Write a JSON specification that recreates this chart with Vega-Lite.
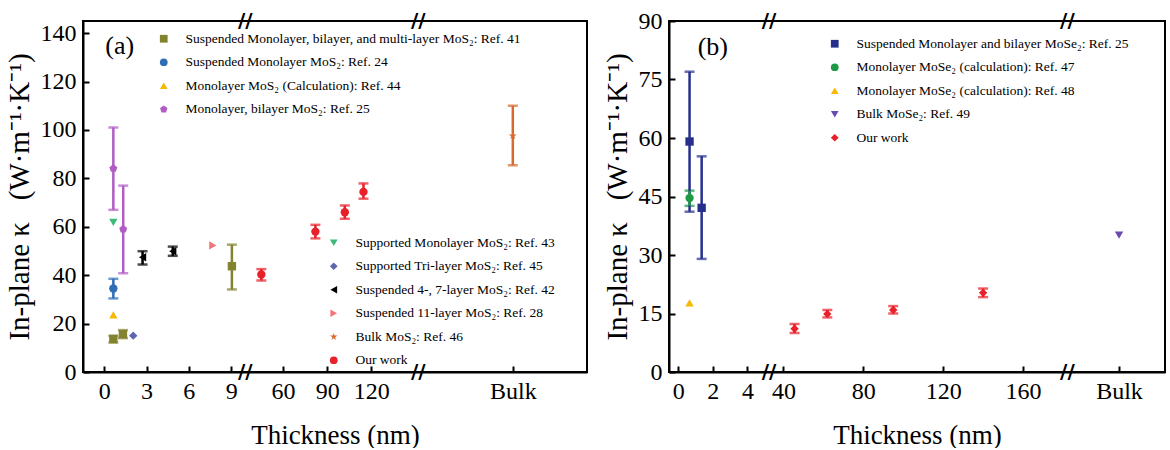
{
  "$schema": "https://vega.github.io/schema/vega-lite/v6.json",
  "padding": {"left": 5, "top": 9, "right": 0, "bottom": 0},
  "background": "white",
  "spacing": 15,
  "datasets": {
    "a": [
      {"series": "Suspended Monolayer, bilayer, and multi-layer MoS₂: Ref. 41", "group": 1, "x": 0.65, "y": 13.6, "lo": 12.2, "hi": 15.0},
      {"series": "Suspended Monolayer, bilayer, and multi-layer MoS₂: Ref. 41", "group": 1, "x": 1.33, "y": 15.6, "lo": 14.0, "hi": 17.3},
      {"series": "Suspended Monolayer, bilayer, and multi-layer MoS₂: Ref. 41", "group": 1, "x": 9.05, "y": 43.7, "lo": 34.1, "hi": 52.6},
      {"series": "Suspended Monolayer MoS₂: Ref. 24", "group": 1, "x": 0.65, "y": 34.5, "lo": 30.4, "hi": 38.5},
      {"series": "Monolayer MoS₂ (Calculation): Ref. 44", "group": 1, "x": 0.65, "y": 23.6},
      {"series": "Monolayer, bilayer MoS₂: Ref. 25", "group": 1, "x": 0.65, "y": 84.1, "lo": 67.0, "hi": 101.0},
      {"series": "Monolayer, bilayer MoS₂: Ref. 25", "group": 1, "x": 1.35, "y": 59.0, "lo": 40.8, "hi": 77.0},
      {"series": "Supported Monolayer MoS₂: Ref. 43", "group": 2, "x": 0.65, "y": 61.8},
      {"series": "Supported Tri-layer MoS₂: Ref. 45", "group": 2, "x": 2.06, "y": 15.0},
      {"series": "Suspended 4-, 7-layer MoS₂: Ref. 42", "group": 2, "x": 2.72, "y": 47.4, "lo": 44.4, "hi": 49.9},
      {"series": "Suspended 4-, 7-layer MoS₂: Ref. 42", "group": 2, "x": 4.86, "y": 49.9, "lo": 48.0, "hi": 51.8},
      {"series": "Suspended 11-layer MoS₂: Ref. 28", "group": 2, "x": 7.7, "y": 52.3},
      {"series": "Bulk MoS₂: Ref. 46", "group": 2, "x": 200, "y": 97.6, "lo": 85.4, "hi": 110.0},
      {"series": "Our work", "group": 2, "x": 45.2, "y": 40.3, "lo": 37.8, "hi": 42.5},
      {"series": "Our work", "group": 2, "x": 82, "y": 58.0, "lo": 55.2, "hi": 60.8},
      {"series": "Our work", "group": 2, "x": 102, "y": 66.0, "lo": 63.3, "hi": 68.8},
      {"series": "Our work", "group": 2, "x": 114.7, "y": 74.4, "lo": 71.6, "hi": 77.9}
    ],
    "b": [
      {"series": "Suspended Monolayer and bilayer MoSe₂: Ref. 25", "x": 0.65, "y": 59.1, "lo": 41.1, "hi": 77.0},
      {"series": "Suspended Monolayer and bilayer MoSe₂: Ref. 25", "x": 1.35, "y": 42.1, "lo": 29.0, "hi": 55.3},
      {"series": "Monolayer MoSe₂ (calculation): Ref. 47", "x": 0.65, "y": 44.6, "lo": 42.6, "hi": 46.5},
      {"series": "Monolayer MoSe₂ (calculation): Ref. 48", "x": 0.65, "y": 17.7},
      {"series": "Bulk MoSe₂: Ref. 49", "x": 200, "y": 35.1},
      {"series": "Our work", "x": 45.6, "y": 11.1, "lo": 10.0, "hi": 12.3},
      {"series": "Our work", "x": 62, "y": 14.9, "lo": 14.0, "hi": 15.9},
      {"series": "Our work", "x": 95, "y": 15.9, "lo": 15.0, "hi": 16.9},
      {"series": "Our work", "x": 140, "y": 20.3, "lo": 19.2, "hi": 21.4}
    ]
  },
  "hconcat": [
    {
      "width": 504,
      "height": 351,
      "data": {"name": "a"},
      "resolve": {
        "scale": {"color": "independent", "shape": "independent"},
        "axis": {"x": "independent", "y": "independent"}
      },
      "layer": [
        {
          "data": {"values": [{}]},
          "mark": {"type": "rect", "fill": "transparent", "stroke": "black", "strokeWidth": 2},
          "encoding": {
            "x": {"datum": -1.5, "type": "quantitative", "axis": null,
                  "scale": {"domain": [-1.5, 10, 34.3, 152, 180, 215.7], "range": [0, 162.3, 162.3, 335.3, 335.3, 504], "nice": false, "zero": false}},
            "x2": {"datum": 215.7},
            "y": {"datum": 0, "type": "quantitative", "axis": null, "scale": {"domain": [0, 145], "nice": false, "zero": false}},
            "y2": {"datum": 145}
          }
        },
        {
          "transform": [{"filter": "isValid(datum.lo)"}],
          "mark": {"type": "errorbar", "thickness": 2.5, "ticks": {"size": 10, "thickness": 2.5}},
          "encoding": {
            "x": {"field": "x", "type": "quantitative", "axis": null,
                  "scale": {"domain": [-1.5, 10, 34.3, 152, 180, 215.7], "range": [0, 162.3, 162.3, 335.3, 335.3, 504], "nice": false, "zero": false}},
            "y": {"field": "lo", "type": "quantitative", "axis": null, "scale": {"domain": [0, 145], "nice": false, "zero": false}},
            "y2": {"field": "hi"},
            "color": {"field": "series", "type": "nominal", "legend": null,
              "scale": {
                "domain": ["Suspended Monolayer, bilayer, and multi-layer MoS₂: Ref. 41", "Suspended Monolayer MoS₂: Ref. 24", "Monolayer MoS₂ (Calculation): Ref. 44", "Monolayer, bilayer MoS₂: Ref. 25", "Supported Monolayer MoS₂: Ref. 43", "Supported Tri-layer MoS₂: Ref. 45", "Suspended 4-, 7-layer MoS₂: Ref. 42", "Suspended 11-layer MoS₂: Ref. 28", "Bulk MoS₂: Ref. 46", "Our work"],
                "range": ["#83832f", "#2f6db5", "#f6b800", "#b05cc4", "#3dba7a", "#5f66b0", "#000000", "#f2757a", "#d9692c", "#e8202a"]
              }}
          }
        },
        {
          "transform": [{"filter": "datum.group == 1"}],
          "mark": {"type": "point", "filled": true, "size": 70, "opacity": 1},
          "encoding": {
            "x": {"field": "x", "type": "quantitative",
                  "scale": {"domain": [-1.5, 10, 34.3, 152, 180, 215.7], "range": [0, 162.3, 162.3, 335.3, 335.3, 504], "nice": false, "zero": false},
                  "axis": {"orient": "bottom", "values": [0, 3, 6, 9, 60, 90, 120, 200], "labelExpr": "datum.value == 200 ? 'Bulk' : datum.label", "title": "Thickness (nm)"}},
            "y": {"field": "y", "type": "quantitative", "scale": {"domain": [0, 145], "nice": false, "zero": false},
                  "axis": {"orient": "left", "values": [0, 20, 40, 60, 80, 100, 120, 140], "title": "In-plane κ \u2002(W·m⁻¹·K⁻¹)"}},
            "color": {"field": "series", "type": "nominal",
              "scale": {
                "domain": ["Suspended Monolayer, bilayer, and multi-layer MoS₂: Ref. 41", "Suspended Monolayer MoS₂: Ref. 24", "Monolayer MoS₂ (Calculation): Ref. 44", "Monolayer, bilayer MoS₂: Ref. 25"],
                "range": ["#83832f", "#2f6db5", "#f6b800", "#b05cc4"]
              },
              "legend": {"orient": "none", "legendX": 74, "legendY": 11, "title": null}},
            "shape": {"field": "series", "type": "nominal",
              "scale": {
                "domain": ["Suspended Monolayer, bilayer, and multi-layer MoS₂: Ref. 41", "Suspended Monolayer MoS₂: Ref. 24", "Monolayer MoS₂ (Calculation): Ref. 44", "Monolayer, bilayer MoS₂: Ref. 25"],
                "range": ["square", "circle", "triangle-up", "M0,-1L0.951,-0.309L0.588,0.809L-0.588,0.809L-0.951,-0.309Z"]
              },
              "legend": {"orient": "none", "legendX": 74, "legendY": 11, "title": null}}
          }
        },
        {
          "transform": [{"filter": "datum.group == 2"}],
          "mark": {"type": "point", "filled": true, "size": 70, "opacity": 1},
          "encoding": {
            "x": {"field": "x", "type": "quantitative", "axis": null,
                  "scale": {"domain": [-1.5, 10, 34.3, 152, 180, 215.7], "range": [0, 162.3, 162.3, 335.3, 335.3, 504], "nice": false, "zero": false}},
            "y": {"field": "y", "type": "quantitative", "axis": null, "scale": {"domain": [0, 145], "nice": false, "zero": false}},
            "color": {"field": "series", "type": "nominal",
              "scale": {
                "domain": ["Supported Monolayer MoS₂: Ref. 43", "Supported Tri-layer MoS₂: Ref. 45", "Suspended 4-, 7-layer MoS₂: Ref. 42", "Suspended 11-layer MoS₂: Ref. 28", "Bulk MoS₂: Ref. 46", "Our work"],
                "range": ["#3dba7a", "#5f66b0", "#000000", "#f2757a", "#d9692c", "#e8202a"]
              },
              "legend": {"orient": "none", "legendX": 244, "legendY": 215, "title": null}},
            "shape": {"field": "series", "type": "nominal",
              "scale": {
                "domain": ["Supported Monolayer MoS₂: Ref. 43", "Supported Tri-layer MoS₂: Ref. 45", "Suspended 4-, 7-layer MoS₂: Ref. 42", "Suspended 11-layer MoS₂: Ref. 28", "Bulk MoS₂: Ref. 46", "Our work"],
                "range": ["triangle-down", "diamond", "triangle-left", "triangle-right", "M0,-1L0.2245,-0.309L0.951,-0.309L0.363,0.118L0.588,0.809L0,0.382L-0.588,0.809L-0.363,0.118L-0.951,-0.309L-0.2245,-0.309Z", "circle"]
              },
              "legend": {"orient": "none", "legendX": 244, "legendY": 215, "title": null}}
          }
        },
        {
          "data": {"values": [{}]},
          "mark": {"type": "text", "fontSize": 26, "fontWeight": "normal", "font": "Liberation Serif", "color": "black"},
          "encoding": {
            "x": {"datum": 1.1, "type": "quantitative", "axis": null},
            "y": {"datum": 134.5, "type": "quantitative", "axis": null},
            "text": {"value": "(a)"}
          }
        },
        {"data": {"values": [{}]}, "mark": {"type": "text", "fontSize": 20, "fontWeight": "bold", "font": "DejaVu Sans", "color": "black"},
         "encoding": {"x": {"datum": 10, "type": "quantitative", "axis": null}, "y": {"datum": 0, "type": "quantitative", "axis": null}, "text": {"value": "//"}}},
        {"data": {"values": [{}]}, "mark": {"type": "text", "fontSize": 20, "fontWeight": "bold", "font": "DejaVu Sans", "color": "black"},
         "encoding": {"x": {"datum": 10, "type": "quantitative", "axis": null}, "y": {"datum": 145, "type": "quantitative", "axis": null}, "text": {"value": "//"}}},
        {"data": {"values": [{}]}, "mark": {"type": "text", "fontSize": 20, "fontWeight": "bold", "font": "DejaVu Sans", "color": "black"},
         "encoding": {"x": {"datum": 152, "type": "quantitative", "axis": null}, "y": {"datum": 0, "type": "quantitative", "axis": null}, "text": {"value": "//"}}},
        {"data": {"values": [{}]}, "mark": {"type": "text", "fontSize": 20, "fontWeight": "bold", "font": "DejaVu Sans", "color": "black"},
         "encoding": {"x": {"datum": 152, "type": "quantitative", "axis": null}, "y": {"datum": 145, "type": "quantitative", "axis": null}, "text": {"value": "//"}}}
      ]
    },
    {
      "width": 496,
      "height": 351,
      "data": {"name": "b"},
      "resolve": {
        "scale": {"color": "independent", "shape": "independent"},
        "axis": {"x": "independent", "y": "independent"}
      },
      "layer": [
        {
          "data": {"values": [{}]},
          "mark": {"type": "rect", "fill": "transparent", "stroke": "black", "strokeWidth": 2},
          "encoding": {
            "x": {"datum": -0.54, "type": "quantitative", "axis": null,
                  "scale": {"domain": [-0.54, 5.25, 32.8, 182.2, 190, 208.9], "range": [0, 100, 100, 398.4, 398.4, 496], "nice": false, "zero": false}},
            "x2": {"datum": 208.9},
            "y": {"datum": 0, "type": "quantitative", "axis": null, "scale": {"domain": [0, 90], "nice": false, "zero": false}},
            "y2": {"datum": 90}
          }
        },
        {
          "transform": [{"filter": "isValid(datum.lo)"}],
          "mark": {"type": "errorbar", "thickness": 2.5, "ticks": {"size": 10, "thickness": 2.5}},
          "encoding": {
            "x": {"field": "x", "type": "quantitative", "axis": null,
                  "scale": {"domain": [-0.54, 5.25, 32.8, 182.2, 190, 208.9], "range": [0, 100, 100, 398.4, 398.4, 496], "nice": false, "zero": false}},
            "y": {"field": "lo", "type": "quantitative", "axis": null, "scale": {"domain": [0, 90], "nice": false, "zero": false}},
            "y2": {"field": "hi"},
            "color": {"field": "series", "type": "nominal", "legend": null,
              "scale": {
                "domain": ["Suspended Monolayer and bilayer MoSe₂: Ref. 25", "Monolayer MoSe₂ (calculation): Ref. 47", "Monolayer MoSe₂ (calculation): Ref. 48", "Bulk MoSe₂: Ref. 49", "Our work"],
                "range": ["#262f8e", "#1e9a46", "#f6b800", "#6a4bb0", "#e8202a"]
              }}
          }
        },
        {
          "mark": {"type": "point", "filled": true, "size": 70, "opacity": 1},
          "encoding": {
            "x": {"field": "x", "type": "quantitative",
                  "scale": {"domain": [-0.54, 5.25, 32.8, 182.2, 190, 208.9], "range": [0, 100, 100, 398.4, 398.4, 496], "nice": false, "zero": false},
                  "axis": {"orient": "bottom", "values": [0, 2, 4, 40, 80, 120, 160, 200], "labelExpr": "datum.value == 200 ? 'Bulk' : datum.label", "title": "Thickness (nm)"}},
            "y": {"field": "y", "type": "quantitative", "scale": {"domain": [0, 90], "nice": false, "zero": false},
                  "axis": {"orient": "left", "values": [0, 15, 30, 45, 60, 75, 90], "title": "In-plane κ \u2002(W·m⁻¹·K⁻¹)"}},
            "color": {"field": "series", "type": "nominal",
              "scale": {
                "domain": ["Suspended Monolayer and bilayer MoSe₂: Ref. 25", "Monolayer MoSe₂ (calculation): Ref. 47", "Monolayer MoSe₂ (calculation): Ref. 48", "Bulk MoSe₂: Ref. 49", "Our work"],
                "range": ["#262f8e", "#1e9a46", "#f6b800", "#6a4bb0", "#e8202a"]
              },
              "legend": {"orient": "none", "legendX": 159, "legendY": 16, "title": null}},
            "shape": {"field": "series", "type": "nominal",
              "scale": {
                "domain": ["Suspended Monolayer and bilayer MoSe₂: Ref. 25", "Monolayer MoSe₂ (calculation): Ref. 47", "Monolayer MoSe₂ (calculation): Ref. 48", "Bulk MoSe₂: Ref. 49", "Our work"],
                "range": ["square", "circle", "triangle-up", "triangle-down", "diamond"]
              },
              "legend": {"orient": "none", "legendX": 159, "legendY": 16, "title": null}}
          }
        },
        {
          "data": {"values": [{}]},
          "mark": {"type": "text", "fontSize": 26, "fontWeight": "normal", "font": "Liberation Serif", "color": "black"},
          "encoding": {
            "x": {"datum": 2.0, "type": "quantitative", "axis": null},
            "y": {"datum": 83.3, "type": "quantitative", "axis": null},
            "text": {"value": "(b)"}
          }
        },
        {"data": {"values": [{}]}, "mark": {"type": "text", "fontSize": 20, "fontWeight": "bold", "font": "DejaVu Sans", "color": "black"},
         "encoding": {"x": {"datum": 5.25, "type": "quantitative", "axis": null}, "y": {"datum": 0, "type": "quantitative", "axis": null}, "text": {"value": "//"}}},
        {"data": {"values": [{}]}, "mark": {"type": "text", "fontSize": 20, "fontWeight": "bold", "font": "DejaVu Sans", "color": "black"},
         "encoding": {"x": {"datum": 5.25, "type": "quantitative", "axis": null}, "y": {"datum": 90, "type": "quantitative", "axis": null}, "text": {"value": "//"}}},
        {"data": {"values": [{}]}, "mark": {"type": "text", "fontSize": 20, "fontWeight": "bold", "font": "DejaVu Sans", "color": "black"},
         "encoding": {"x": {"datum": 182.2, "type": "quantitative", "axis": null}, "y": {"datum": 0, "type": "quantitative", "axis": null}, "text": {"value": "//"}}},
        {"data": {"values": [{}]}, "mark": {"type": "text", "fontSize": 20, "fontWeight": "bold", "font": "DejaVu Sans", "color": "black"},
         "encoding": {"x": {"datum": 182.2, "type": "quantitative", "axis": null}, "y": {"datum": 90, "type": "quantitative", "axis": null}, "text": {"value": "//"}}}
      ]
    }
  ],
  "config": {
    "font": "Liberation Serif",
    "view": {"stroke": null},
    "axis": {
      "grid": false,
      "domainColor": "black",
      "domainWidth": 2,
      "tickColor": "black",
      "tickWidth": 2,
      "tickSize": -6,
      "labelFont": "Liberation Serif",
      "labelFontSize": 24,
      "labelColor": "black",
      "labelPadding": 13,
      "labelFlush": false,
      "labelOverlap": false,
      "titleFont": "Liberation Serif",
      "titleFontSize": 29,
      "titleFontWeight": "normal",
      "titleColor": "black",
      "titlePadding": 6
    },
    "axisX": {"titlePadding": 19, "titleFontSize": 27},
    "legend": {
      "labelFont": "Liberation Serif",
      "labelFontSize": 13.5,
      "labelColor": "black",
      "labelLimit": 0,
      "symbolSize": 60,
      "symbolStrokeWidth": 0,
      "rowPadding": 8.5,
      "labelOffset": 15,
      "padding": 0
    }
  }
}
